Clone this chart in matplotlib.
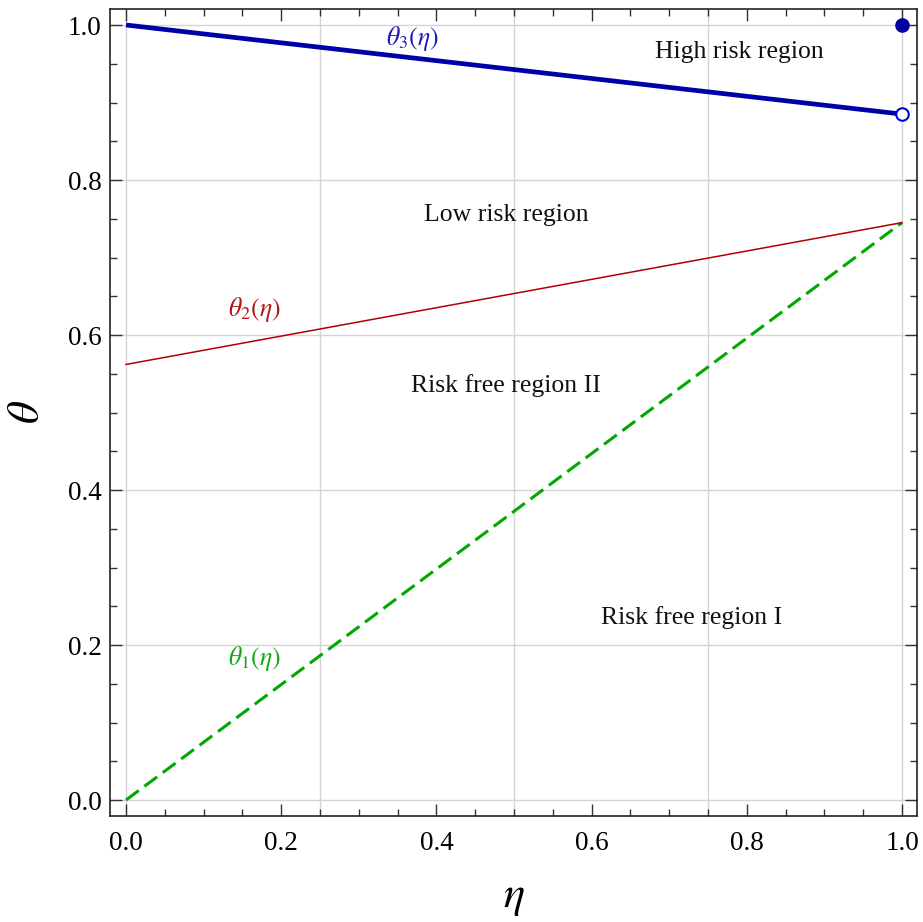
import matplotlib
matplotlib.use("Agg")
import matplotlib.pyplot as plt
from matplotlib.ticker import MultipleLocator, FormatStrFormatter

# endpoints of the three boundary curves (eta = 0 and eta = 1)
eta = [0.0, 1.0]
theta1 = [0.0, 0.745]
theta2 = [0.562, 0.745]
theta3 = [1.0, 0.885]

# jump of theta3 at eta = 1
jump_eta = 1.0
jump_closed = 1.0
jump_open = 0.885

# region labels: (text, eta, theta)
regions = [
    ("High risk region", 0.79, 0.965),
    ("Low risk region", 0.49, 0.755),
    ("Risk free region II", 0.49, 0.535),
    ("Risk free region I", 0.729, 0.236),
]

# curve labels: (text, eta, theta, colour)
curve_labels = [
    (r"$\theta_3(\eta)$", 0.369, 0.983, "#1a1ab8"),
    (r"$\theta_2(\eta)$", 0.165, 0.633, "#b01515"),
    (r"$\theta_1(\eta)$", 0.165, 0.182, "#10a810"),
]

plt.rcParams['font.family'] = ['Liberation Serif', 'DejaVu Serif']
plt.rcParams['mathtext.fontset'] = 'stix'

fig = plt.figure(figsize=(9.23, 9.22), dpi=100)
ax = fig.add_axes([0.1192, 0.115, 0.8743, 0.8752])

ax.plot(eta, theta1, color="#00a800", lw=2.2, dashes=(5.2, 2.3))
ax.plot(eta, theta2, color="#b00000", lw=1.1)
ax.plot(eta, theta3, color="#0000a8", lw=3.4, solid_capstyle="butt")
ax.plot([jump_eta], [jump_closed], "o", ms=9.5, color="#0000a0", clip_on=False, zorder=5)
ax.plot([jump_eta], [jump_open], "o", ms=9, mfc="white", mec="#0000e0", mew=1.5,
        clip_on=False, zorder=5)

for txt, x, y in regions:
    ax.text(x, y, txt, ha="center", va="center", fontsize=18.5, color="#111111")
for txt, x, y, c in curve_labels:
    ax.text(x, y, txt, ha="center", va="center", fontsize=18.5, color=c)

ax.set_xlim(-0.0206, 1.0193)
ax.set_ylim(-0.0206, 1.0206)

for gx in [0.0, 0.25, 0.5, 0.75, 1.0]:
    ax.axvline(gx, color="#d4d4d4", lw=1.0, zorder=0)
for gy in [0.0, 0.2, 0.4, 0.6, 0.8, 1.0]:
    ax.axhline(gy, color="#d4d4d4", lw=1.0, zorder=0)

ax.xaxis.set_major_locator(MultipleLocator(0.2))
ax.xaxis.set_minor_locator(MultipleLocator(0.05))
ax.yaxis.set_major_locator(MultipleLocator(0.2))
ax.yaxis.set_minor_locator(MultipleLocator(0.05))
ax.xaxis.set_major_formatter(FormatStrFormatter("%.1f"))
ax.yaxis.set_major_formatter(FormatStrFormatter("%.1f"))

ax.tick_params(which="both", direction="in", top=True, right=True, color="#333333",
               width=1.0, labelsize=19.5)
ax.tick_params(which="major", length=8.5)
ax.tick_params(which="minor", length=5)
ax.tick_params(axis="x", which="major", pad=11)
ax.tick_params(axis="y", which="major", pad=6)

for s in ax.spines.values():
    s.set_linewidth(1.2)
    s.set_color("#222222")

ax.set_xlabel(r"$\eta$", fontsize=32, labelpad=16)
ax.set_ylabel(r"$\theta$", fontsize=32, labelpad=14)

fig.savefig("out.png", dpi=100)
